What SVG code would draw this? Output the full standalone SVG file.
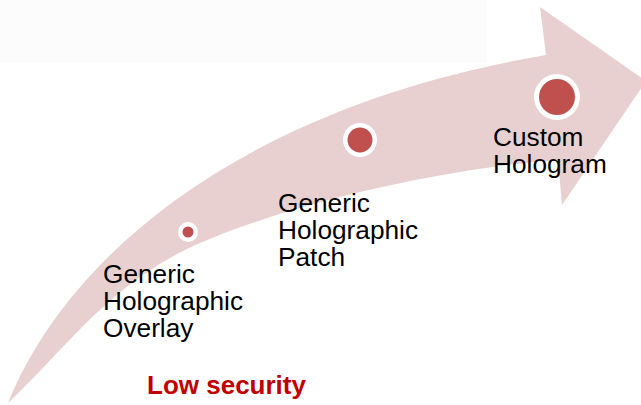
<svg xmlns="http://www.w3.org/2000/svg" width="641" height="405" viewBox="0 0 641 405">
<style>
.lbl{font-family:"Liberation Sans",Arial,sans-serif;font-size:25px;fill:#000}
.sec{font-family:"Liberation Sans",Arial,sans-serif;font-size:26px;font-weight:bold;fill:#C00000}
.ring{fill:#fff}
.dot{fill:#C0504D}
</style>
<rect x="0" y="0" width="641" height="405" fill="#fff"/>
<rect x="0" y="0" width="487" height="63" fill="#FCFCFC"/>
<g id="arrow">
<path d="M8,403 C70,250 250,105 546,55 L540,7 L646,81 L562,205 L558,160 C450,168 300,200 200,243 C110,282 65,350 8,403 Z" fill="#E8D0D1"/>
</g>
<g id="connectors"></g>
<g id="overlay">
<circle class="ring" cx="188" cy="232" r="10"/>
<circle class="dot" cx="188" cy="232" r="5.5"/>
<text class="lbl" transform="translate(103,0) scale(1.05,1)"><tspan x="0" y="283">Generic</tspan><tspan x="0" y="310">Holographic</tspan><tspan x="0" y="337">Overlay</tspan></text>
</g>
<g id="patch">
<circle class="ring" cx="360" cy="140" r="17"/>
<circle class="dot" cx="360" cy="140" r="12.5"/>
<text class="lbl" transform="translate(278,0) scale(1.05,1)"><tspan x="0" y="212">Generic</tspan><tspan x="0" y="239">Holographic</tspan><tspan x="0" y="266">Patch</tspan></text>
</g>
<g id="custom">
<circle class="ring" cx="557" cy="97" r="23"/>
<circle class="dot" cx="557" cy="97" r="18"/>
<text class="lbl" transform="translate(493,0) scale(1.05,1)"><tspan x="0" y="146">Custom</tspan><tspan x="0" y="173">Hologram</tspan></text>
</g>
<g id="low-security">
<text class="sec" x="147" y="394">Low security</text>
</g>
</svg>
